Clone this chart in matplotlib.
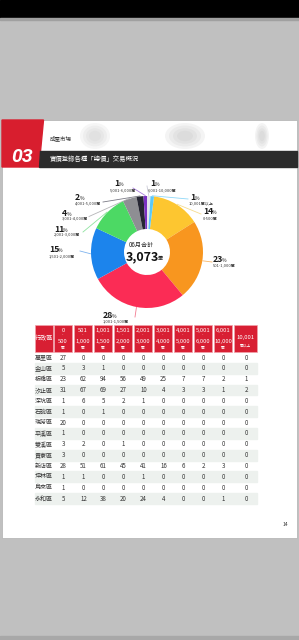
import numpy as np
import matplotlib.pyplot as plt
from matplotlib.patches import Rectangle, Polygon, Ellipse

plt.rcParams['font.family'] = ['Noto Sans CJK TC', 'DejaVu Sans']

# donut data (percent of 3,073 transactions, 06月)
shares = [14, 23, 28, 15, 11, 4, 2, 1, 1, 1]
ranges = ['0-500萬', '501-1,000萬', '1,001-1,500萬', '1,501-2,000萬', '2,001-3,000萬',
          '3,001-4,000萬', '4,001-5,000萬', '5,001-6,000萬', '6,001-10,000萬', '10,001萬以上']
total = '3,073'

# table data
districts = ['萬里區', '金山區', '板橋區', '汐止區', '深坑區', '石碇區', '瑞芳區',
             '平溪區', '雙溪區', '貢寮區', '新店區', '坪林區', '烏來區', '永和區']
counts = [
    [27, 0, 0, 0, 0, 0, 0, 0, 0, 0],
    [5, 3, 1, 0, 0, 0, 0, 0, 0, 0],
    [23, 62, 94, 56, 49, 25, 7, 7, 2, 1],
    [31, 67, 69, 27, 10, 4, 3, 3, 1, 2],
    [1, 6, 5, 2, 1, 0, 0, 0, 0, 0],
    [1, 0, 1, 0, 0, 0, 0, 0, 0, 0],
    [20, 0, 0, 0, 0, 0, 0, 0, 0, 0],
    [1, 0, 0, 0, 0, 0, 0, 0, 0, 0],
    [3, 2, 0, 1, 0, 0, 0, 0, 0, 0],
    [3, 0, 0, 0, 0, 0, 0, 0, 0, 0],
    [28, 51, 61, 45, 41, 16, 6, 2, 3, 0],
    [1, 1, 0, 0, 1, 0, 0, 0, 0, 0],
    [1, 0, 0, 0, 0, 0, 0, 0, 0, 0],
    [5, 12, 38, 20, 24, 4, 0, 0, 1, 0],
]
head_top = ['0', '501', '1,001', '1,501', '2,001', '3,001', '4,001', '5,001', '6,001', '10,001']
head_bot = ['500', '1,000', '1,500', '2,000', '3,000', '4,000', '5,000', '6,000', '10,000', '']

colors = ['#FDC630', '#F8961F', '#FB2C55', '#1C84EC', '#4CD964', '#8E8E93',
          '#262633', '#7A2FC2', '#E4E4EE', '#5AC8FA']
line_colors = ['#F5DC90', '#F8B565', '#F27A90', '#7FB3EE', '#8FE3A0', '#B5B5B8',
               '#7A7A85', '#A77ADB', '#C9C9D6', '#8FD8F8']

fig = plt.figure(figsize=(2.99, 6.4), dpi=100)
ax = fig.add_axes([0, 0, 1, 1])
ax.set_xlim(0, 299)
ax.set_ylim(640, 0)
ax.axis('off')

# screen background and page
ax.add_patch(Rectangle((0, 0), 299, 640, color='#c0c0c0', zorder=0))
ax.add_patch(Rectangle((0, 0), 299, 18, color='black', zorder=1))
ax.add_patch(Rectangle((0, 18), 299, 2, color='#a0a0a0', zorder=1))
ax.add_patch(Rectangle((0, 636), 299, 4, color='#a8a8a8', zorder=1))
ax.add_patch(Rectangle((1.5, 120), 295.5, 418, facecolor='white', edgecolor='#b0b0b0', lw=0.5, zorder=1))

# blurred banner picture behind the header
for ex, ew, a in [(95, 30, 0.25), (185, 40, 0.3), (262, 14, 0.3)]:
    for k in range(4):
        ax.add_patch(Ellipse((ex, 136), ew * (1 - 0.2 * k), 26 * (1 - 0.2 * k),
                             color='#b8b8b8', alpha=a / 2, lw=0, zorder=1.5))

# section header
ax.add_patch(Polygon([(2, 120), (43.5, 120), (39, 167), (2, 167)], color='#D81E2E', zorder=2))
ax.add_patch(Polygon([(39.6, 151), (297, 151), (297, 166.5), (39, 166.5)], color='#2C2C2C', zorder=2))
ax.text(22, 157, '03', color='white', fontsize=14, fontweight='bold', style='italic',
        family='Roboto', ha='center', va='center', zorder=3)
ax.text(50, 138, '成屋市場', fontsize=4, color='#333333', va='center', zorder=3)
ax.text(50, 159, '實價登錄各種「總價」交易概況', fontsize=4.6, color='white', va='center', zorder=3)

# donut
cx, cy, R, r_in = 147, 252, 56, 23
pa = fig.add_axes([(cx - 70) / 299, (640 - cy - 70) / 640, 140 / 299, 140 / 640])
pa.pie(shares, colors=colors, radius=R, startangle=90 - 7.2, counterclock=False,
       wedgeprops=dict(width=R - r_in, linewidth=0))
pa.set_xlim(-70, 70)
pa.set_ylim(-70, 70)
pa.set_aspect('equal')
pa.axis('off')

# center text
ax.text(141, 245, '06月合計', fontsize=4.4, color='#222222', ha='center', va='center', zorder=5)
ax.text(142, 257, total, fontsize=9, fontweight='bold', color='#111111', ha='center', va='center', zorder=5)
ax.text(160.5, 258.5, '筆', fontsize=3.6, color='#222222', ha='center', va='center', zorder=5)

# label positions (number left x, number y, range x, range y) and leader-line ends
label_pos = [(203, 212, 203, 218.5), (213, 259, 213, 265), (103, 315, 102.5, 321),
             (49, 250, 49, 256), (54, 229, 54, 234), (62, 213, 61.5, 218.5),
             (75, 198, 75, 203.5), (114, 184, 110, 190), (150, 184, 148, 190),
             (190, 198, 189, 203.5)]
line_end = [(201, 214), (212, 262), (135, 317), (80, 251), (83, 232), (89, 216.5),
            (103, 202), (133, 188), (147, 186), (188, 199)]

cum = np.cumsum([0] + shares[:-1])
for i, s in enumerate(shares):
    ang = np.deg2rad(7.2 + (cum[i] + s / 2) * 3.6)
    x0, y0 = cx + (R + 0.5) * np.sin(ang), cy - (R + 0.5) * np.cos(ang)
    x1, y1 = line_end[i]
    ax.plot([x0, x1], [y0, y1], color=line_colors[i], lw=0.6, zorder=3)
    nx, ny, rx, ry = label_pos[i]
    ax.text(nx, ny, str(s), fontsize=6.3, fontweight='bold', color='#1a1a1a', ha='left', va='center', zorder=4)
    ax.text(nx + 4.3 * len(str(s)) + 0.3, ny + 1, '%', fontsize=3.5, color='#1a1a1a', ha='left', va='center', zorder=4)
    ax.text(rx, ry, ranges[i], fontsize=2.9, color='#333333', ha='left', va='center', zorder=4)

# table header
col_left = [54 + 20 * j for j in range(9)] + [234]
col_w = [18] * 9 + [23]
hy0, hy1 = 325, 352
red = '#D81F33'
ax.add_patch(Rectangle((35, hy0), 17.5, hy1 - hy0, facecolor=red, edgecolor='#F2A3AC', lw=0.5, zorder=3))
ax.text(43.7, 338.5, '行政區', fontsize=4.4, color='white', ha='center', va='center', zorder=4)
for j in range(10):
    ax.add_patch(Rectangle((col_left[j], hy0), col_w[j], hy1 - hy0, facecolor=red,
                           edgecolor='#F2A3AC', lw=0.5, zorder=3))
    xc = col_left[j] + col_w[j] / 2
    if head_bot[j]:
        ax.text(xc, 330, head_top[j], fontsize=4.2, color='white', ha='center', va='center', zorder=4)
        ax.text(xc, 335.5, '-', fontsize=2.8, color='white', ha='center', va='center', zorder=4)
        ax.text(xc, 341.5, head_bot[j], fontsize=4.2, color='white', ha='center', va='center', zorder=4)
        ax.text(xc, 347.8, '萬', fontsize=2.7, color='white', ha='center', va='center', zorder=4)
    else:
        ax.text(xc, 338, head_top[j], fontsize=4.3, color='white', ha='center', va='center', zorder=4)
        ax.text(xc, 345.5, '萬以上', fontsize=2.7, color='white', ha='center', va='center', zorder=4)

# table body
row_h = 10.85
for i, name in enumerate(districts):
    yc = 357.5 + i * row_h
    if i % 2 == 1:
        ax.add_patch(Rectangle((35, yc - row_h / 2), 222, row_h, color='#EDF1EE', zorder=2))
    ax.text(43.7, yc, name, fontsize=4.3, color='#333333', ha='center', va='center', zorder=4)
    for j, v in enumerate(counts[i]):
        ax.text(col_left[j] + col_w[j] / 2 + 0.5, yc, str(v), fontsize=4.4, color='#333333',
                ha='center', va='center', zorder=4)

ax.text(285, 525, '14', fontsize=3.6, color='#333333', ha='center', va='center', zorder=4)

fig.savefig('out.png', dpi=100)
